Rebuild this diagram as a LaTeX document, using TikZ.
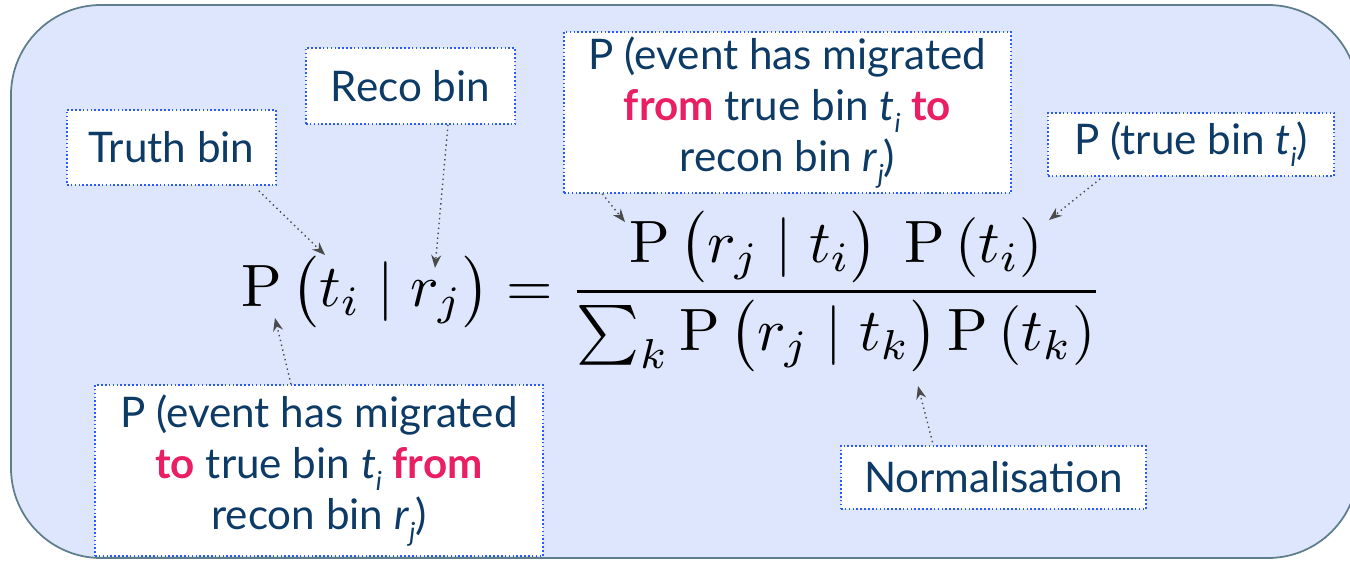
\documentclass[tikz,border=0pt]{standalone}
\usepackage{amsmath,amssymb}
\usepackage[no-math]{fontspec}
\newfontfamily\labelfont{Lato}
\usetikzlibrary{arrows.meta, positioning, calc}
\definecolor{panelfill}{HTML}{DDE6FC}
\definecolor{paneledge}{HTML}{607D8B}
\definecolor{labelnavy}{HTML}{0D3B66}
\definecolor{hilite}{HTML}{E91E63}
\definecolor{boxblue}{HTML}{2A5BF6}
\definecolor{arrowgrey}{HTML}{4A4A4A}
\newcommand{\hl}[1]{{\bfseries\color{hilite}#1}}
\newcommand{\binsub}[2]{\textit{#1}\raisebox{-0.55ex}{\fontsize{15}{15}\selectfont\itshape #2}}

\begin{document}
\begin{tikzpicture}[
    every node/.style={font=\fontsize{24}{29}\selectfont\labelfont, text=labelnavy},
    % Label boxes
    notebox/.style={
      rectangle, draw=boxblue, fill=white,
      line width=0.9pt, dash pattern=on 0.9pt off 1.3pt,
      align=center, inner sep=0pt
    },
    % Dotted pointers
    pointer/.style={arrowgrey, line width=0.8pt, dotted,
      -{Stealth[length=2.6mm, width=2mm]}}
  ]
  \useasboundingbox (0,0) rectangle (27,11.2);
  \clip (0,0) rectangle (27,11.2);

  % ============ Panel ============
  \draw[fill=panelfill, draw=paneledge, line width=1pt, rounded corners=1.8cm]
    (0.22,0.04) rectangle (27.16,11.1);

  % ============ Bayes formula ============
  \node[scale=3.4, inner sep=0pt, anchor=base west, text=black, font=\normalsize] (bayes) at (4.8,5.07)
    {$\displaystyle \mathrm{P}\mathinner{\bigl(t_i \mid r_j\bigr)} =
      \frac{\mathrm{P}\mathinner{\bigl(r_j \mid t_i\bigr)}\;\mathrm{P}\left(t_i\right)}
           {\sum_k \mathrm{P}\mathinner{\bigl(r_j \mid t_k\bigr)}\mathrm{P}\left(t_k\right)}$};

  % ============ Labels ============
  \node[notebox, minimum width=4.18cm, minimum height=1.5cm] (truth) at (3.43,8.25) {Truth bin};
  \node[notebox, minimum width=4.18cm, minimum height=1.52cm] (reco) at (8.21,9.48) {Reco bin};
  \node[notebox, minimum width=8.94cm, minimum height=3.22cm] (fromto) at (15.75,8.95)
    {P (event has migrated\\\hl{from} true bin \binsub{t}{i} \hl{to}\\recon bin \binsub{r}{j})};
  \node[notebox, minimum width=5.72cm, minimum height=1.26cm] (prior) at (23.82,8.31)
    {P (true bin \binsub{t}{i})};
  \node[notebox, minimum width=8.96cm, minimum height=3.42cm] (tofrom) at (6.38,1.79)
    {P (event has migrated\\\hl{to} true bin \binsub{t}{i} \hl{from}\\recon bin \binsub{r}{j})};
  \node[notebox, minimum width=6.1cm, minimum height=1.26cm] (norm) at (19.87,1.65) {Normalisation};

  % ============ Targets in the formula ============
  \coordinate (tiTop) at (6.5,6.1);
  \coordinate (rjTop) at (8.7,5.84);
  \coordinate (likeTop) at (12.5,6.76);
  \coordinate (priorTop) at (20.98,6.8);
  \coordinate (postBot) at (5.5,4.84);
  \coordinate (normTop) at (18.36,3.48);

  % ============ Pointers ============
  \draw[pointer] ([xshift=-0.36cm, yshift=-0.1cm]truth.south east) -- (tiTop);
  \draw[pointer] ([xshift=0.75cm]reco.south) -- (rjTop);
  \draw[pointer] ([xshift=0.78cm]fromto.south west) -- (likeTop);
  \draw[pointer] ([xshift=1.06cm, yshift=-0.04cm]prior.south west) -- (priorTop);
  \draw[pointer] ([xshift=-0.56cm]tofrom.north) -- (postBot);
  \draw[pointer] ([xshift=-1.22cm, yshift=0.06cm]norm.north) -- (normTop);

\end{tikzpicture}
\end{document}
